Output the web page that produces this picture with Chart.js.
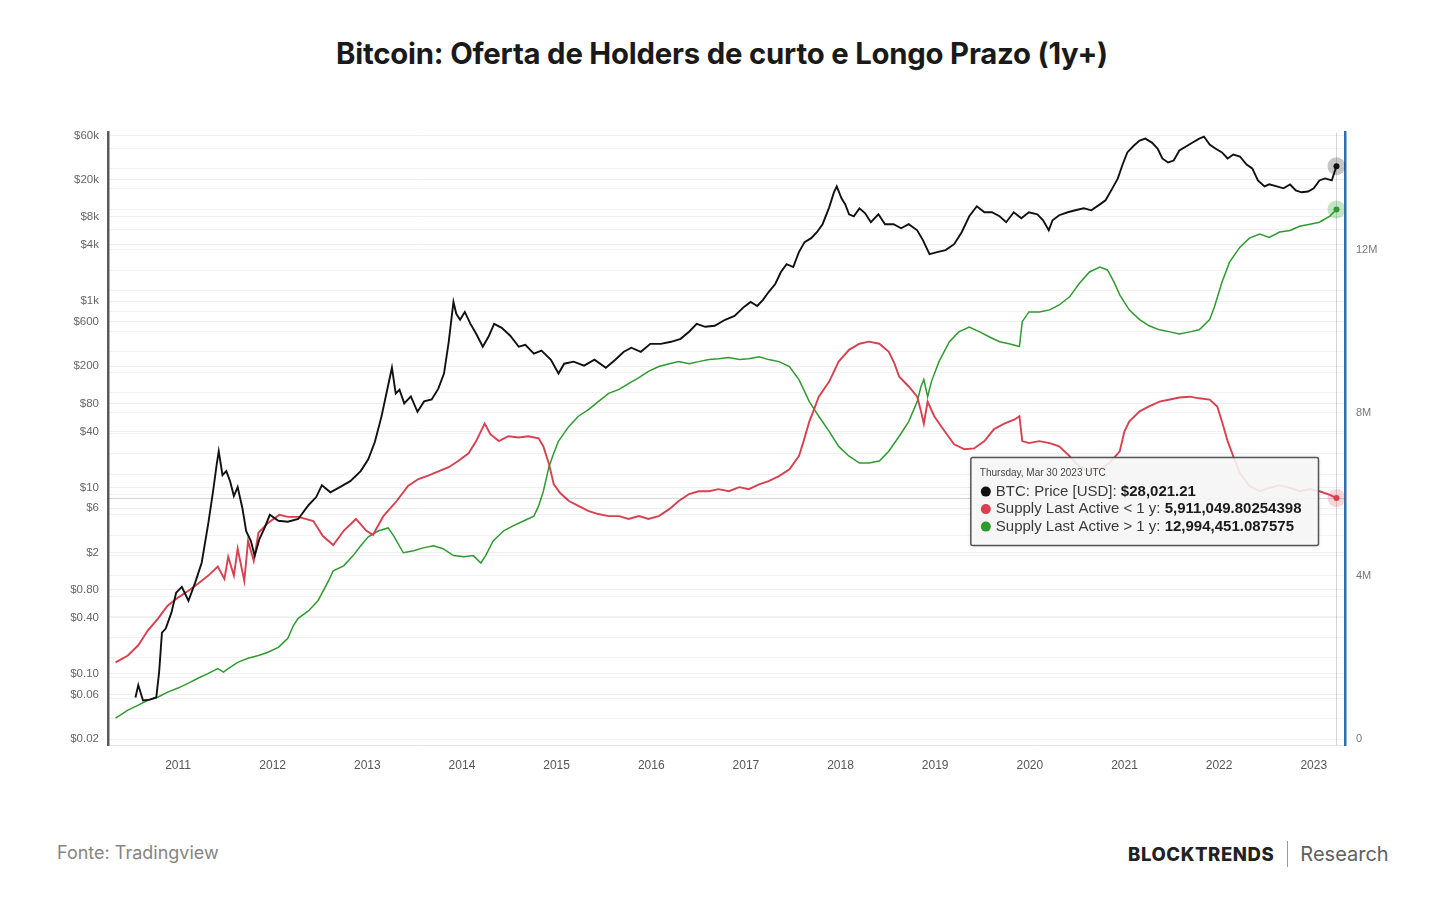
<!DOCTYPE html>
<html>
<head>
<meta charset="utf-8">
<title>Bitcoin: Oferta de Holders de curto e Longo Prazo (1y+)</title>
<script src="https://cdn.jsdelivr.net/npm/chart.js@4.4.1/dist/chart.umd.min.js"></script>
<style>
  html, body { margin: 0; padding: 0; background: #fff; }
  body { width: 1440px; height: 906px; position: relative; overflow: hidden; font-family: Inter, Roboto, "Liberation Sans", Arial, sans-serif; }
  #title { position: absolute; left: 0; top: 36px; width: 1444px; text-align: center; font: 700 29.3px Inter, Roboto, Arial, sans-serif; color: #1a1a1a; line-height: 36px; letter-spacing: -0.2px; }
  #wrap { position: absolute; left: 0; top: 115px; width: 1440px; height: 670px; }
  #source { position: absolute; left: 57px; top: 842px; font: 400 18px Inter, Roboto, sans-serif; color: #858585; }
  #brand { position: absolute; left: 1128px; top: 840px; height: 28px; display: flex; align-items: center; }
  #brand .b { font: 800 18.5px Inter, Roboto, sans-serif; color: #222; letter-spacing: 0.6px; }
  #brand .sep { width: 1px; height: 26px; background: #9a9a9a; margin: 0 12px 0 13px; }
  #brand .r { font: 400 20px Inter, Roboto, sans-serif; color: #606060; }
</style>
</head>
<body>
<div id="title">Bitcoin: Oferta de Holders de curto e Longo Prazo (1y+)</div>
<div id="wrap"><canvas id="chart"></canvas></div>
<div id="source">Fonte: Tradingview</div>
<div id="brand"><span class="b">BLOCKTRENDS</span><span class="sep"></span><span class="r">Research</span></div>

<script>
// --- data ---
const yearTicks = [2011, 2012, 2013, 2014, 2015, 2016, 2017, 2018, 2019, 2020, 2021, 2022, 2023];
const priceTicks = [0.02, 0.06, 0.1, 0.4, 0.8, 2, 6, 10, 40, 80, 200, 600, 1000, 4000, 8000, 20000, 60000];
const supplyTickLabels = [0, 4, 8, 12]; // millions

const btcYears = [2010.55, 2010.58, 2010.63, 2010.70, 2010.77, 2010.80, 2010.83, 2010.87, 2010.93, 2010.98,
  2011.04, 2011.11, 2011.18, 2011.25, 2011.32, 2011.37, 2011.41, 2011.43, 2011.47, 2011.51,
  2011.55, 2011.59, 2011.63, 2011.68, 2011.72, 2011.77, 2011.81, 2011.86, 2011.91, 2011.97,
  2012.06, 2012.16, 2012.27, 2012.38, 2012.46, 2012.52, 2012.61, 2012.71, 2012.82, 2012.93,
  2013.01, 2013.08, 2013.15, 2013.21, 2013.26, 2013.30, 2013.34, 2013.39, 2013.46, 2013.53,
  2013.60, 2013.68, 2013.75, 2013.81, 2013.86, 2013.91, 2013.94, 2013.98, 2014.03, 2014.09,
  2014.15, 2014.22, 2014.28, 2014.34, 2014.42, 2014.51, 2014.60, 2014.67, 2014.76, 2014.84,
  2014.94, 2015.02, 2015.08, 2015.18, 2015.29, 2015.40, 2015.52, 2015.62, 2015.71, 2015.79,
  2015.89, 2015.99, 2016.10, 2016.21, 2016.31, 2016.40, 2016.48, 2016.57, 2016.67, 2016.78,
  2016.88, 2016.98, 2017.05, 2017.12, 2017.18, 2017.24, 2017.31, 2017.37, 2017.43, 2017.50,
  2017.56, 2017.62, 2017.69, 2017.75, 2017.81, 2017.88, 2017.93, 2017.96, 2018.01, 2018.05,
  2018.09, 2018.14, 2018.20, 2018.26, 2018.32, 2018.40, 2018.47, 2018.56, 2018.64, 2018.72,
  2018.81, 2018.87, 2018.94, 2019.02, 2019.11, 2019.20, 2019.28, 2019.36, 2019.44, 2019.52,
  2019.60, 2019.68, 2019.75, 2019.83, 2019.91, 2019.99, 2020.08, 2020.14, 2020.20, 2020.24,
  2020.31, 2020.40, 2020.48, 2020.57, 2020.65, 2020.74, 2020.80, 2020.86, 2020.93, 2020.98,
  2021.03, 2021.10, 2021.16, 2021.22, 2021.29, 2021.35, 2021.40, 2021.46, 2021.52, 2021.58,
  2021.65, 2021.72, 2021.79, 2021.84, 2021.90, 2021.96, 2022.03, 2022.09, 2022.15, 2022.22,
  2022.29, 2022.35, 2022.41, 2022.48, 2022.53, 2022.61, 2022.68, 2022.75, 2022.81, 2022.87,
  2022.94, 2023.00, 2023.06, 2023.12, 2023.19, 2023.24];
const btcPrice = [0.056, 0.076, 0.052, 0.053, 0.056, 0.104, 0.278, 0.307, 0.455, 0.745,
  0.86, 0.61, 0.95, 1.56, 4.16, 9.1, 18.2, 24.5, 13.6, 15,
  11.7, 8.1, 10.1, 6.0, 3.4, 2.67, 1.85, 2.8, 3.6, 5.1,
  4.4, 4.3, 4.6, 6.5, 7.9, 10.6, 8.9, 10.1, 11.7, 15,
  20.1, 31, 58, 112, 193, 102, 112, 80, 95, 65,
  84, 88, 115, 167, 366, 980, 730, 630, 766, 570,
  446, 324, 414, 570, 516, 425, 324, 340, 273, 294,
  235, 167, 213, 224, 203, 235, 193, 235, 286, 316,
  286, 348, 348, 366, 394, 469, 570, 530, 543, 630,
  695, 867, 980, 887, 1030, 1250, 1525, 2050, 2490, 2320,
  3350, 4290, 4730, 5480, 6680, 10140, 14660, 17000, 12650, 10900,
  8530, 8130, 9890, 8750, 7020, 8530, 6680, 6680, 6050, 6680,
  5750, 4510, 3190, 3350, 3520, 4080, 5480, 8130, 10400, 8970,
  8970, 8130, 7020, 8970, 7750, 8970, 8530, 7370, 5750, 7370,
  8340, 8970, 9420, 9890, 9420, 10900, 12050, 15400, 20700, 29200,
  39300, 46700, 52700, 55300, 50200, 43300, 33900, 30700, 32200, 41200,
  45500, 50200, 55300, 58200, 47800, 43300, 39300, 33900, 37300, 35600,
  29200, 26500, 19700, 17000, 17900, 17000, 16200, 17800, 15400, 14700,
  15000, 16200, 19700, 20700, 19700, 28021.21];

// supply last active < 1y, millions of BTC
const shortYears = [2010.34, 2010.47, 2010.58, 2010.68, 2010.79, 2010.89, 2011.00, 2011.11, 2011.21, 2011.32,
  2011.42, 2011.49, 2011.53, 2011.59, 2011.63, 2011.70, 2011.74, 2011.80, 2011.85, 2011.95,
  2012.07, 2012.16, 2012.27, 2012.43, 2012.53, 2012.64, 2012.75, 2012.88, 2012.99, 2013.06,
  2013.17, 2013.31, 2013.43, 2013.54, 2013.65, 2013.75, 2013.86, 2013.96, 2014.07, 2014.15,
  2014.24, 2014.30, 2014.39, 2014.49, 2014.60, 2014.70, 2014.81, 2014.86, 2014.92, 2014.97,
  2015.04, 2015.13, 2015.23, 2015.34, 2015.44, 2015.55, 2015.66, 2015.76, 2015.87, 2015.97,
  2016.08, 2016.19, 2016.29, 2016.40, 2016.50, 2016.61, 2016.71, 2016.82, 2016.93, 2017.03,
  2017.14, 2017.24, 2017.35, 2017.46, 2017.56, 2017.61, 2017.67, 2017.72, 2017.77, 2017.88,
  2017.98, 2018.09, 2018.20, 2018.30, 2018.41, 2018.51, 2018.57, 2018.62, 2018.72, 2018.81,
  2018.85, 2018.88, 2018.92, 2018.99, 2019.10, 2019.20, 2019.31, 2019.41, 2019.52, 2019.62,
  2019.73, 2019.84, 2019.89, 2019.92, 2019.99, 2020.10, 2020.21, 2020.31, 2020.42, 2020.52,
  2020.63, 2020.74, 2020.84, 2020.95, 2021.00, 2021.05, 2021.16, 2021.26, 2021.37, 2021.48,
  2021.58, 2021.69, 2021.79, 2021.90, 2021.98, 2022.03, 2022.09, 2022.16, 2022.22, 2022.32,
  2022.43, 2022.53, 2022.64, 2022.75, 2022.85, 2022.96, 2023.06, 2023.17, 2023.24];
const shortSupply = [1.88, 2.05, 2.30, 2.66, 2.96, 3.27, 3.47, 3.64, 3.81, 4.01,
  4.23, 3.93, 4.47, 4.01, 4.67, 3.88, 4.86, 4.37, 5.06, 5.30,
  5.50, 5.45, 5.45, 5.35, 4.98, 4.76, 5.11, 5.40, 5.11, 5.01,
  5.47, 5.84, 6.21, 6.38, 6.47, 6.57, 6.67, 6.82, 7.01, 7.31,
  7.74, 7.48, 7.31, 7.43, 7.40, 7.43, 7.38, 7.18, 6.74, 6.25,
  6.03, 5.84, 5.72, 5.59, 5.52, 5.47, 5.47, 5.40, 5.47, 5.40,
  5.47, 5.64, 5.84, 6.01, 6.08, 6.08, 6.13, 6.08, 6.18, 6.13,
  6.25, 6.33, 6.45, 6.62, 6.94, 7.31, 7.79, 8.09, 8.40, 8.77,
  9.26, 9.55, 9.70, 9.75, 9.70, 9.50, 9.21, 8.89, 8.65, 8.40,
  8.04, 7.74, 8.28, 7.92, 7.55, 7.23, 7.11, 7.13, 7.31, 7.60,
  7.74, 7.84, 7.92, 7.31, 7.26, 7.31, 7.26, 7.18, 6.94, 6.69,
  6.57, 6.62, 6.77, 7.06, 7.55, 7.79, 8.04, 8.16, 8.28, 8.33,
  8.38, 8.40, 8.36, 8.33, 8.16, 7.79, 7.31, 6.87, 6.52, 6.21,
  6.08, 6.16, 6.23, 6.16, 6.08, 6.13, 6.08, 5.99, 5.91104980254398];

// supply last active > 1y, millions of BTC
const longYears = [2010.34, 2010.47, 2010.58, 2010.68, 2010.79, 2010.89, 2011.00, 2011.11, 2011.21, 2011.32,
  2011.42, 2011.48, 2011.53, 2011.63, 2011.74, 2011.85, 2011.95, 2012.06, 2012.16, 2012.22,
  2012.27, 2012.38, 2012.48, 2012.59, 2012.64, 2012.75, 2012.85, 2012.93, 2013.01, 2013.12,
  2013.22, 2013.28, 2013.38, 2013.49, 2013.59, 2013.70, 2013.80, 2013.91, 2014.02, 2014.12,
  2014.20, 2014.25, 2014.33, 2014.44, 2014.54, 2014.65, 2014.76, 2014.81, 2014.86, 2014.92,
  2014.97, 2015.02, 2015.13, 2015.23, 2015.34, 2015.44, 2015.55, 2015.66, 2015.76, 2015.87,
  2015.97, 2016.08, 2016.19, 2016.29, 2016.40, 2016.50, 2016.61, 2016.71, 2016.82, 2016.93,
  2017.03, 2017.14, 2017.24, 2017.35, 2017.46, 2017.56, 2017.61, 2017.67, 2017.77, 2017.88,
  2017.98, 2018.09, 2018.20, 2018.30, 2018.41, 2018.51, 2018.62, 2018.72, 2018.81, 2018.85,
  2018.88, 2018.92, 2018.96, 2019.04, 2019.15, 2019.25, 2019.36, 2019.47, 2019.57, 2019.68,
  2019.78, 2019.89, 2019.92, 2019.99, 2020.10, 2020.21, 2020.31, 2020.42, 2020.52, 2020.63,
  2020.74, 2020.82, 2020.89, 2020.95, 2021.05, 2021.16, 2021.26, 2021.37, 2021.48, 2021.58,
  2021.69, 2021.79, 2021.90, 2021.95, 2022.03, 2022.11, 2022.22, 2022.32, 2022.43, 2022.53,
  2022.64, 2022.75, 2022.85, 2022.96, 2023.06, 2023.17, 2023.24];
const longSupply = [0.51, 0.71, 0.83, 0.95, 1.03, 1.15, 1.25, 1.37, 1.49, 1.61,
  1.73, 1.64, 1.73, 1.88, 1.98, 2.05, 2.13, 2.25, 2.47, 2.79,
  2.96, 3.15, 3.40, 3.88, 4.13, 4.25, 4.50, 4.74, 4.96, 5.11,
  5.18, 4.98, 4.57, 4.62, 4.69, 4.74, 4.67, 4.50, 4.47, 4.50,
  4.32, 4.50, 4.86, 5.11, 5.23, 5.35, 5.47, 5.72, 6.08, 6.69,
  7.01, 7.31, 7.67, 7.92, 8.09, 8.28, 8.48, 8.58, 8.72, 8.87,
  9.02, 9.14, 9.21, 9.26, 9.21, 9.26, 9.31, 9.33, 9.36, 9.31,
  9.33, 9.38, 9.31, 9.26, 9.14, 8.82, 8.58, 8.28, 7.92, 7.55,
  7.18, 6.94, 6.77, 6.77, 6.82, 7.06, 7.43, 7.79, 8.28, 8.65,
  8.82, 8.40, 8.77, 9.26, 9.75, 9.99, 10.11, 9.99, 9.87, 9.75,
  9.70, 9.63, 10.24, 10.48, 10.48, 10.53, 10.65, 10.85, 11.17, 11.46,
  11.58, 11.51, 11.21, 10.90, 10.53, 10.29, 10.14, 10.04, 9.99, 9.94,
  9.99, 10.04, 10.29, 10.60, 11.21, 11.70, 12.07, 12.29, 12.39, 12.31,
  12.44, 12.48, 12.58, 12.63, 12.68, 12.83, 12.994451087575];

const tooltipDate = 'Thursday, Mar 30 2023 UTC';
const tooltipRows = [
  { label: 'BTC: Price [USD]: ', value: '$28,021.21', color: '#111111' },
  { label: 'Supply Last Active < 1 y: ', value: '5,911,049.80254398', color: '#d9404f' },
  { label: 'Supply Last Active > 1 y: ', value: '12,994,451.087575', color: '#2f9a2f' },
];

const toPoints = (xs, ys) => xs.map((x, i) => ({ x: x, y: ys[i] }));

const formatPrice = (v) => {
  if (v >= 1000) return '$' + (v / 1000) + 'k';
  if (v >= 1) return '$' + v;
  return '$' + v.toFixed(2);
};

// halos on the last points, crosshair and the hover box
const hoverPlugin = {
  id: 'hover',
  afterDatasetsDraw(chart) {
    const ctx = chart.ctx;
    const area = chart.chartArea;
    const redMeta = chart.getDatasetMeta(1);
    const redLast = redMeta.data[redMeta.data.length - 1];

    ctx.save();
    ctx.strokeStyle = 'rgba(0,0,0,0.16)';
    ctx.lineWidth = 1;
    ctx.beginPath();
    ctx.moveTo(area.left, Math.round(redLast.y) + 0.5);
    ctx.lineTo(area.right, Math.round(redLast.y) + 0.5);
    ctx.moveTo(Math.round(redLast.x) + 0.5, area.top);
    ctx.lineTo(Math.round(redLast.x) + 0.5, area.bottom);
    ctx.stroke();

    const halos = ['rgba(0,0,0,0.22)', 'rgba(217,64,79,0.22)', 'rgba(47,154,47,0.28)'];
    chart.data.datasets.forEach((ds, i) => {
      const meta = chart.getDatasetMeta(i);
      const pt = meta.data[meta.data.length - 1];
      ctx.fillStyle = halos[i];
      ctx.beginPath();
      ctx.arc(pt.x, pt.y, 9, 0, Math.PI * 2);
      ctx.fill();
      ctx.fillStyle = ds.borderColor;
      ctx.beginPath();
      ctx.arc(pt.x, pt.y, 3, 0, Math.PI * 2);
      ctx.fill();
    });
    ctx.restore();
  },
  afterDraw(chart) {
    const ctx = chart.ctx;
    const area = chart.chartArea;
    const meta = chart.getDatasetMeta(1);
    const last = meta.data[meta.data.length - 1];

    ctx.save();
    const labelFont = '15px "Liberation Sans", Arial, sans-serif';
    const valueFont = 'bold 15px "Liberation Sans", Arial, sans-serif';
    let maxW = 0;
    tooltipRows.forEach(r => {
      ctx.font = labelFont;
      const w1 = ctx.measureText(r.label).width;
      ctx.font = valueFont;
      const w2 = ctx.measureText(r.value).width;
      maxW = Math.max(maxW, w1 + w2);
    });
    const w = maxW + 42;
    const h = 88;
    const right = last.x - 18;
    const left = right - w;
    const top = area.top + 325;

    ctx.shadowColor = 'rgba(0,0,0,0.18)';
    ctx.shadowBlur = 4;
    ctx.fillStyle = 'rgba(250,250,250,0.88)';
    ctx.beginPath();
    ctx.roundRect(left, top, w, h, 2);
    ctx.fill();
    ctx.shadowColor = 'transparent';
    ctx.strokeStyle = '#555';
    ctx.lineWidth = 1.5;
    ctx.stroke();

    ctx.textBaseline = 'middle';
    ctx.fillStyle = '#444';
    ctx.font = '10px "Liberation Sans", Arial, sans-serif';
    ctx.fillText(tooltipDate, left + 9, top + 16);

    tooltipRows.forEach((r, i) => {
      const y = top + 34 + i * 17.5;
      ctx.fillStyle = r.color;
      ctx.beginPath();
      ctx.arc(left + 15, y, 5, 0, Math.PI * 2);
      ctx.fill();
      ctx.font = labelFont;
      ctx.fillStyle = '#3a3a3a';
      ctx.fillText(r.label, left + 25, y);
      const lw = ctx.measureText(r.label).width;
      ctx.font = valueFont;
      ctx.fillStyle = '#1a1a1a';
      ctx.fillText(r.value, left + 25 + lw, y);
    });
    ctx.restore();
  }
};

Chart.defaults.font.family = '"Liberation Sans", Arial, sans-serif';

new Chart(document.getElementById('chart'), {
  type: 'line',
  data: {
    datasets: [
      {
        label: 'BTC: Price [USD]',
        data: toPoints(btcYears, btcPrice),
        yAxisID: 'y',
        borderColor: '#111111',
        borderWidth: 1.9,
        pointRadius: 0,
        tension: 0,
      },
      {
        label: 'Supply Last Active < 1 y',
        data: toPoints(shortYears, shortSupply),
        yAxisID: 'y1',
        borderColor: '#d9404f',
        borderWidth: 1.9,
        pointRadius: 0,
        tension: 0,
      },
      {
        label: 'Supply Last Active > 1 y',
        data: toPoints(longYears, longSupply),
        yAxisID: 'y1',
        borderColor: '#2f9a2f',
        borderWidth: 1.5,
        pointRadius: 0,
        tension: 0,
      },
    ],
  },
  options: {
    responsive: true,
    maintainAspectRatio: false,
    animation: false,
    layout: { padding: { top: 15, left: 0, right: 0, bottom: 0 } },
    plugins: {
      legend: { display: false },
      tooltip: { enabled: false },
    },
    scales: {
      x: {
        type: 'linear',
        min: 2010.26,
        max: 2023.33,
        afterBuildTicks: (scale) => { scale.ticks = yearTicks.map(v => ({ value: v })); },
        afterFit: (scale) => { scale.height = 40; },
        grid: { display: false },
        border: { color: '#e4e4e4', width: 1 },
        ticks: {
          callback: (v) => String(v),
          color: '#555',
          font: { size: 12, family: '"Liberation Sans Narrow", "Liberation Sans", Arial, sans-serif' },
          padding: 5,
          maxRotation: 0,
        },
      },
      y: {
        type: 'logarithmic',
        position: 'left',
        min: 0.0173,
        max: 64200,
        afterBuildTicks: (scale) => { scale.ticks = priceTicks.map(v => ({ value: v })); },
        afterFit: (scale) => { scale.width = 108; },
        grid: { color: '#efefef', drawTicks: false },
        border: { color: '#5a5a5a', width: 2.5 },
        ticks: {
          callback: (v) => formatPrice(v),
          color: '#666',
          font: { size: 11.5 },
          padding: 9,
        },
      },
      y1: {
        type: 'linear',
        position: 'right',
        min: -0.147,
        max: 14.88,
        afterBuildTicks: (scale) => {
          const t = [];
          for (let v = 0; v <= 14.5; v += 0.5) t.push({ value: v });
          scale.ticks = t;
        },
        afterFit: (scale) => { scale.width = 95; },
        grid: { color: '#f3f3f3', drawTicks: false },
        border: { color: '#2f6db5', width: 2.5 },
        ticks: {
          autoSkip: false,
          callback: (v) => supplyTickLabels.includes(v) ? (v === 0 ? '0' : v + 'M') : '',
          color: '#777',
          font: { size: 11 },
          padding: 11,
        },
      },
    },
  },
  plugins: [hoverPlugin],
});
</script>
</body>
</html>
